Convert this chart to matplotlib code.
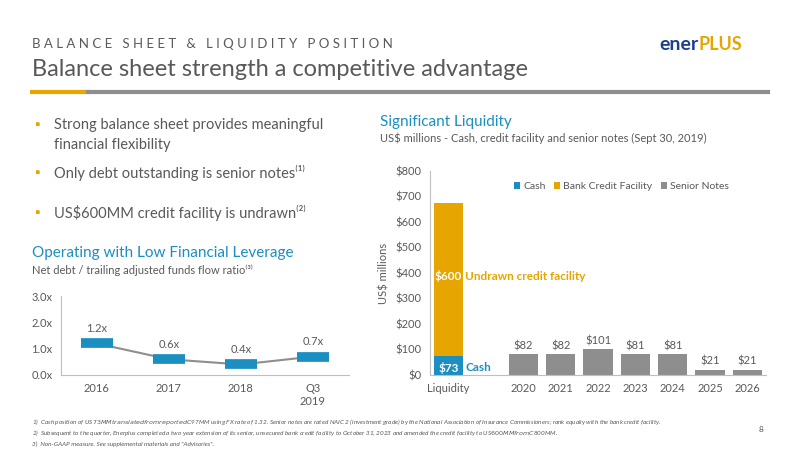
import matplotlib
matplotlib.use("Agg")
import matplotlib.pyplot as plt

# Data
lev_labels = ["2016", "2017", "2018", "Q3\n2019"]
lev_values = [1.2, 0.6, 0.4, 0.7]
lev_text = ["1.2x", "0.6x", "0.4x", "0.7x"]

liq_cats = ["Liquidity", "2020", "2021", "2022", "2023", "2024", "2025", "2026"]
cash = [73]
credit = [600]
notes = [82, 82, 101, 81, 81, 21, 21]

BLUE = "#1b8ec2"
GOLD = "#e7a500"
GRAY = "#8e8e8e"
TXT = "#595959"
plt.rcParams['font.family'] = ['Lato', 'DejaVu Sans']

fig = plt.figure(figsize=(8, 4.5), dpi=100)
fig.patch.set_facecolor("white")

# Header
fig.text(0.04, 0.893, "B A L A N C E   S H E E T   &   L I Q U I D I T Y   P O S I T I O N", fontsize=9.5, color=TXT)
fig.text(0.04, 0.83, "Balance sheet strength a competitive advantage", fontsize=17, color=TXT)
fig.text(0.873, 0.888, "ener", fontsize=14, color="#1c3f8f", fontweight="bold", ha="right")
fig.text(0.873, 0.888, "PLUS", fontsize=13, color=GOLD, fontweight="bold", ha="left")
fig.add_artist(plt.Line2D([0.04, 0.11], [0.795, 0.795], color=GOLD, lw=3))
fig.add_artist(plt.Line2D([0.11, 0.96], [0.795, 0.795], color=GRAY, lw=3))

# Bullets
bullets = [(0.722, "Strong balance sheet provides meaningful"),
           (0.616, "Only debt outstanding is senior notes\u207d\u00b9\u207e"),
           (0.527, "US$600MM credit facility is undrawn\u207d\u00b2\u207e")]
for y, t in bullets:
    fig.text(0.042, y, "\u25aa", fontsize=10, color=GOLD, va="center")
    fig.text(0.067, y, t, fontsize=10.5, color=TXT, va="center")
fig.text(0.067, 0.678, "financial flexibility", fontsize=10.5, color=TXT, va="center")

fig.text(0.04, 0.428, "Operating with Low Financial Leverage", fontsize=11, color=BLUE)
fig.text(0.04, 0.39, "Net debt / trailing adjusted funds flow ratio\u207d\u00b3\u207e", fontsize=8, color=TXT)

fig.text(0.475, 0.72, "Significant Liquidity", fontsize=11, color=BLUE)
fig.text(0.475, 0.685, "US$ millions - Cash, credit facility and senior notes (Sept 30, 2019)", fontsize=8, color=TXT)

# Leverage chart
ax1 = fig.add_axes([0.076, 0.1667, 0.36, 0.175])
x = list(range(len(lev_values)))
ax1.plot(x, lev_values, color=GRAY, lw=1.5, zorder=1)
ax1.plot(x, lev_values, ls="none", marker="_", markersize=23, markeredgewidth=7, color=BLUE, zorder=2)
for xi, v, t in zip(x, lev_values, lev_text):
    ax1.text(xi, v + 0.35, t, ha="center", va="bottom", fontsize=8, color=TXT)
ax1.set_xlim(-0.5, 3.5)
ax1.set_ylim(0, 3)
ax1.set_yticks([0, 1, 2, 3])
ax1.set_yticklabels(["0.0x", "1.0x", "2.0x", "3.0x"])
ax1.set_xticks(x)
ax1.set_xticklabels(lev_labels)
for s in ["top", "right"]:
    ax1.spines[s].set_visible(False)
for s in ["left", "bottom"]:
    ax1.spines[s].set_color("#bfbfbf")
ax1.tick_params(length=0, labelsize=8, colors=TXT, pad=6)

# Liquidity chart
ax2 = fig.add_axes([0.5375, 0.1667, 0.42, 0.4533])
pos = [0] + list(range(2, 2 + len(notes)))
w = 0.78
ax2.bar([0], cash, w, color=BLUE, label="Cash")
ax2.bar([0], credit, w, bottom=cash, color=GOLD, label="Bank Credit Facility")
ax2.bar(pos[1:], notes, w, color=GRAY, label="Senior Notes")
for p, v in zip(pos[1:], notes):
    ax2.text(p, v + 12, f"${v}", ha="center", va="bottom", fontsize=8, color=TXT)
ax2.text(0, cash[0] / 2 - 8, f"${cash[0]}", ha="center", va="center", fontsize=8.5, color="white", fontweight="bold")
ax2.text(0.45, cash[0] / 2 - 8, "Cash", ha="left", va="center", fontsize=8.5, color=BLUE, fontweight="bold")
ax2.text(0, cash[0] + 315, f"${credit[0]}", ha="center", va="center", fontsize=8.5, color="white", fontweight="bold")
ax2.text(0.45, cash[0] + 315, "Undrawn credit facility", ha="left", va="center", fontsize=8.5, color=GOLD, fontweight="bold")
ax2.set_xlim(-0.5, 8.5)
ax2.set_ylim(0, 800)
ax2.set_yticks(range(0, 801, 100))
ax2.set_yticklabels([f"${v}" for v in range(0, 801, 100)])
ax2.set_xticks(pos)
ax2.set_xticklabels(liq_cats)
ax2.set_ylabel("US$ millions", fontsize=8, color=TXT, labelpad=4)
for s in ["top", "right"]:
    ax2.spines[s].set_visible(False)
for s in ["left", "bottom"]:
    ax2.spines[s].set_color("#bfbfbf")
ax2.tick_params(length=0, labelsize=8, colors=TXT, pad=6)
ax2.legend(loc="upper center", bbox_to_anchor=(0.57, 0.99), ncol=3, frameon=False, fontsize=7.5,
           handlelength=0.6, handleheight=0.6, columnspacing=0.8, handletextpad=0.3, labelcolor=TXT)

# Footnotes
foot = ["1)  Cash position of US$73MM translated from reported C$97MM using FX rate of 1.32. Senior notes are rated NAIC 2 (investment grade) by the National Association of Insurance Commissioners; rank equally with the bank credit facility.",
        "2)  Subsequent to the quarter, Enerplus completed a two year extension of its senior, unsecured bank credit facility to October 31, 2023 and amended the credit facility to US$600MM from C$800MM.",
        "3)  Non-GAAP measure. See supplemental materials and \"Advisories\"."]
for i, t in enumerate(foot):
    fig.text(0.04, 0.058 - i * 0.025, t, fontsize=4.6, color=TXT, style="italic")
fig.text(0.948, 0.04, "8", fontsize=6, color=TXT)

fig.savefig("out.png", dpi=100)
